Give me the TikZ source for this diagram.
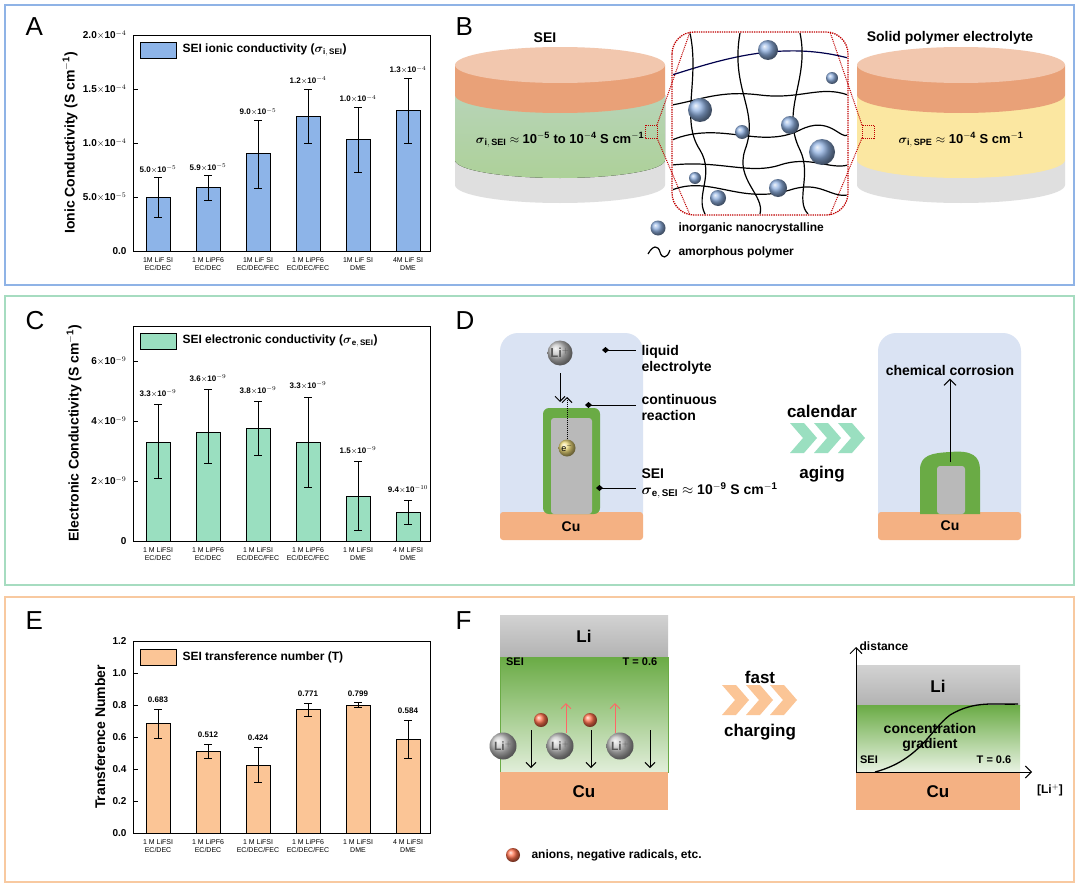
\documentclass[tikz,border=0pt]{standalone}
\usepackage{amsmath}
\usepackage{fontspec}
\setmainfont{Liberation Sans}
\usetikzlibrary{arrows.meta,shapes.geometric}
\definecolor{frA}{HTML}{8FB3E6}
\definecolor{frC}{HTML}{A6DCC0}
\definecolor{frE}{HTML}{F8C9A0}
\definecolor{barA}{HTML}{8DB4E8}
\definecolor{barC}{HTML}{9ADFC0}
\definecolor{barE}{HTML}{FBC596}
\definecolor{cu}{HTML}{F4B183}
\definecolor{elec}{HTML}{DAE3F3}
\definecolor{seig}{HTML}{6AAB45}
\definecolor{capo}{HTML}{E9A178}
\definecolor{redd}{HTML}{C00000}
\definecolor{spe}{HTML}{FBE7A1}
\definecolor{chevC}{HTML}{9ADFC0}
\definecolor{chevE}{HTML}{FBC596}
\definecolor{nano}{HTML}{8FB0E0}
\tikzset{
 frame/.style={line width=2pt},
 bar/.style={draw=black,line width=0.8pt},
 err/.style={line width=0.7pt},
 val/.style={font=\fontsize{8}{9}\selectfont\bfseries,anchor=south},
 cat/.style={font=\fontsize{7}{8}\selectfont,align=center,anchor=north},
 tick/.style={font=\fontsize{10}{11}\selectfont\bfseries,anchor=east},
 ylab/.style={font=\fontsize{14}{15}\selectfont\bfseries,rotate=90},
 leg/.style={font=\fontsize{12}{13}\selectfont\bfseries,anchor=west},
 letter/.style={font=\fontsize{26}{28}\selectfont,anchor=north west},
 txt/.style={font=\fontsize{14}{16}\selectfont\bfseries},
 sph/.style={circle,shading=ball,ball color=#1,inner sep=0pt},
 dia/.style={{Diamond[length=7pt,width=6pt]}-,line width=1pt},
}
\newcommand{\chev}[3]{\fill[#3] (#1,#2-15) -- (#1+14,#2-15) -- (#1+27,#2) -- (#1+14,#2+15) -- (#1,#2+15) -- (#1+13,#2) -- cycle;}
\begin{document}
\begin{tikzpicture}[x=1pt,y=-1pt]
\useasboundingbox (0,0) rectangle (1080,886);
\fill[white] (0,0) rectangle (1080,886);
% frames
\draw[frame,frA] (5,5) rectangle (1074,285);
\draw[frame,frC] (5,296) rectangle (1074,585);
\draw[frame,frE] (5,597) rectangle (1074,882);
\node[letter] (LA) at (22,14) {A};
\node[letter] (LB) at (452,14) {B};
\node[letter] (LC) at (22,308) {C};
\node[letter] (LD) at (452,308) {D};
\node[letter] (LE) at (22,608) {E};
\node[letter] (LF) at (452,608) {F};

% ===== Panel A =====
\draw[line width=0.9pt] (133,35) rectangle (430,251);
\foreach \y/\t in {251/0.0,197/{5.0$\times$10$^{-5}$},143/{1.0$\times$10$^{-4}$},89/{1.5$\times$10$^{-4}$},35/{2.0$\times$10$^{-4}$}}{
 \draw[line width=0.8pt] (133,\y) -- (138,\y);
 \node[tick] at (130,\y) {\t};}
\node[ylab] (YA) at (70,143) {Ionic Conductivity (S cm$^{\mathbf{-1}}$)};
\foreach \i/\v/\lo/\hi/\lab in {0/0.50/0.31/0.68/{5.0$\times$10$^{-5}$},1/0.59/0.47/0.70/{5.9$\times$10$^{-5}$},2/0.90/0.58/1.21/{9.0$\times$10$^{-5}$},3/1.25/1.00/1.50/{1.2$\times$10$^{-4}$},4/1.03/0.73/1.33/{1.0$\times$10$^{-4}$},5/1.30/1.00/1.60/{1.3$\times$10$^{-4}$}}{
 \pgfmathsetmacro\xc{158+50*\i}
 \draw[bar,fill=barA] ({\xc-12},251) rectangle ({\xc+12},{251-\v*108});
 \draw[err] (\xc,{251-\lo*108}) -- (\xc,{251-\hi*108});
 \draw[err] ({\xc-4},{251-\lo*108}) -- ({\xc+4},{251-\lo*108});
 \draw[err] ({\xc-4},{251-\hi*108}) -- ({\xc+4},{251-\hi*108});
 \node[val] at (\xc,{251-\hi*108-1}) {\lab};}
\foreach \i/\a/\b in {0/{1M LiF SI}/{EC/DEC},1/{1 M LiPF6}/{EC/DEC},2/{1M LiF SI}/{EC/DEC/FEC},3/{1 M LiPF6}/{EC/DEC/FEC},4/{1M LiF SI}/{DME},5/{4M LiF SI}/{DME}}{
 \node[cat] at ({158+50*\i},254) {\a\\\b};}
\draw[bar,fill=barA] (140,42) rectangle (176,58);
\node[leg] (legA) at (179,50) {SEI ionic conductivity ($\boldsymbol{\sigma}_{\mathbf{i,\,SEI}}$)};

% ===== Panel C =====
\draw[line width=0.9pt] (133,326) rectangle (430,541);
\foreach \y/\t in {541/0,481/{2$\times$10$^{-9}$},421/{4$\times$10$^{-9}$},361/{6$\times$10$^{-9}$}}{
 \draw[line width=0.8pt] (133,\y) -- (138,\y);
 \node[tick] at (130,\y) {\t};}
\node[ylab] (YC) at (74,433) {Electronic Conductivity (S cm$^{\mathbf{-1}}$)};
\foreach \i/\v/\lo/\hi/\lab in {0/3.30/2.10/4.55/{3.3$\times$10$^{-9}$},1/3.62/2.60/5.05/{3.6$\times$10$^{-9}$},2/3.75/2.85/4.65/{3.8$\times$10$^{-9}$},3/3.30/1.80/4.80/{3.3$\times$10$^{-9}$},4/1.50/0.35/2.65/{1.5$\times$10$^{-9}$},5/0.95/0.55/1.35/{9.4$\times$10$^{-10}$}}{
 \pgfmathsetmacro\xc{158+50*\i}
 \draw[bar,fill=barC] ({\xc-12},541) rectangle ({\xc+12},{541-\v*30});
 \draw[err] (\xc,{541-\lo*30}) -- (\xc,{541-\hi*30});
 \draw[err] ({\xc-4},{541-\lo*30}) -- ({\xc+4},{541-\lo*30});
 \draw[err] ({\xc-4},{541-\hi*30}) -- ({\xc+4},{541-\hi*30});
 \node[val] at (\xc,{541-\hi*30-4}) {\lab};}
\foreach \i/\a/\b in {0/{1 M LiFSI}/{EC/DEC},1/{1 M LiPF6}/{EC/DEC},2/{1 M LiFSI}/{EC/DEC/FEC},3/{1 M LiPF6}/{EC/DEC/FEC},4/{1 M LiFSI}/{DME},5/{4 M LiFSI}/{DME}}{
 \node[cat] at ({158+50*\i},544) {\a\\\b};}
\draw[bar,fill=barC] (140,333) rectangle (176,349);
\node[leg] (legC) at (179,341) {SEI electronic conductivity ($\boldsymbol{\sigma}_{\mathbf{e,\,SEI}}$)};

% ===== Panel E =====
\draw[line width=0.9pt] (133,641) rectangle (430,833);
\foreach \y/\t in {833/0.0,801/0.2,769/0.4,737/0.6,705/0.8,673/1.0,641/1.2}{
 \draw[line width=0.8pt] (133,\y) -- (138,\y);
 \node[tick] at (130,\y) {\t};}
\node[ylab] (YE) at (100,737) {Transference Number};
\foreach \i/\v/\e/\lab in {0/0.683/0.09/0.683,1/0.512/0.045/0.512,2/0.424/0.11/0.424,3/0.771/0.04/0.771,4/0.799/0.015/0.799,5/0.584/0.12/0.584}{
 \pgfmathsetmacro\xc{158+50*\i}
 \draw[bar,fill=barE] ({\xc-12},833) rectangle ({\xc+12},{833-\v*160});
 \draw[err] (\xc,{833-(\v-\e)*160}) -- (\xc,{833-(\v+\e)*160});
 \draw[err] ({\xc-4},{833-(\v-\e)*160}) -- ({\xc+4},{833-(\v-\e)*160});
 \draw[err] ({\xc-4},{833-(\v+\e)*160}) -- ({\xc+4},{833-(\v+\e)*160});
 \node[val] at (\xc,{833-(\v+\e)*160-3}) {\lab};}
\foreach \i/\a/\b in {0/{1 M LiFSI}/{EC/DEC},1/{1 M LiPF6}/{EC/DEC},2/{1 M LiFSI}/{EC/DEC/FEC},3/{1 M LiPF6}/{EC/DEC/FEC},4/{1 M LiFSI}/{DME},5/{4 M LiFSI}/{DME}}{
 \node[cat] at ({158+50*\i},836) {\a\\\b};}
\draw[bar,fill=barE] (140,649) rectangle (176,665);
\node[leg] (legE) at (179,657) {SEI transference number (T)};

% ===== Panel B =====
\fill[gray!25] (455,160) -- (455,185) arc[start angle=180,end angle=0,x radius=105,y radius=18] -- (665,160) -- cycle;
\fill[top color=green!25!gray!45, bottom color=seig!55] (455,95) -- (455,160) arc[start angle=180,end angle=0,x radius=105,y radius=18] -- (665,95) -- cycle;
\fill[capo] (455,65) -- (455,95) arc[start angle=180,end angle=0,x radius=105,y radius=18] -- (665,65) -- cycle;
\fill[capo!60] (560,65) ellipse[x radius=105,y radius=18];
\node[txt] (sei) at (545,38) {SEI};
\node[font=\fontsize{13}{15}\selectfont\bfseries] (sigA) at (560,140) {$\boldsymbol{\sigma}_{\mathbf{i,\,SEI}}\approx$ 10$^{\mathbf{-5}}$ to 10$^{\mathbf{-4}}$ S cm$^{\mathbf{-1}}$};
\fill[gray!25] (857,160) -- (857,185) arc[start angle=180,end angle=0,x radius=104,y radius=18] -- (1065,160) -- cycle;
\fill[spe] (857,95) -- (857,160) arc[start angle=180,end angle=0,x radius=104,y radius=18] -- (1065,95) -- cycle;
\fill[capo] (857,65) -- (857,95) arc[start angle=180,end angle=0,x radius=104,y radius=18] -- (1065,65) -- cycle;
\fill[capo!60] (961,65) ellipse[x radius=104,y radius=18];
\node[txt] (spet) at (950,38) {Solid polymer electrolyte};
\node[font=\fontsize{13}{15}\selectfont\bfseries] (sigB) at (961,140) {$\boldsymbol{\sigma}_{\mathbf{i,\,SPE}}\approx$ 10$^{\mathbf{-4}}$ S cm$^{\mathbf{-1}}$};
\fill[white,rounded corners=22pt] (672,32) rectangle (848,215);
\draw[redd,densely dotted,line width=1.3pt,rounded corners=22pt] (672,32) rectangle (848,215);
\draw[redd,densely dotted,line width=1pt] (645,125) rectangle (657,138);
\draw[redd,densely dotted,line width=1pt] (862,125) rectangle (874,138);
\draw[redd,densely dotted,line width=1pt] (657,125) -- (690,32) (657,138) -- (690,215);
\draw[redd,densely dotted,line width=1pt] (862,125) -- (830,32) (862,138) -- (830,215);
\begin{scope}
\clip[rounded corners=22pt] (673,33) rectangle (847,214);
\draw[line width=1.2pt,black!70!blue] (672,75) .. controls (720,60) and (780,40) .. (848,58);
\draw[line width=1.2pt] (690,33) .. controls (700,80) and (680,120) .. (700,150) .. controls (715,175) and (695,195) .. (705,214);
\draw[line width=1.2pt] (672,140) .. controls (720,120) and (760,150) .. (800,130) .. controls (830,115) and (840,140) .. (848,135);
\draw[line width=1.2pt] (740,33) .. controls (730,90) and (760,110) .. (745,150) .. controls (735,180) and (765,195) .. (760,214);
\draw[line width=1.2pt] (672,190) .. controls (710,175) and (740,205) .. (790,190) .. controls (820,180) and (830,198) .. (848,195);
\draw[line width=1.2pt] (800,33) .. controls (810,80) and (780,110) .. (800,150) .. controls (812,175) and (795,200) .. (808,214);
\draw[line width=1.2pt] (672,105) .. controls (700,100) and (720,90) .. (760,95) .. controls (800,100) and (820,85) .. (848,95);
\draw[line width=1.2pt] (672,165) .. controls (720,160) and (750,175) .. (780,165) .. controls (810,155) and (830,170) .. (848,165);
\end{scope}
\foreach \x/\y/\r [count=\k] in {768/50/10,832/78/6,700/110/12,742/132/7,790/125/9,822/152/13,718/198/8,778/188/9,695/178/6}{
 \node[sph=nano,minimum size=2*\r pt] (s\k) at (\x,\y) {};}
\node[sph=nano,minimum size=15pt] (legs) at (658,228) {};
\node[leg] (legst) at (675,228) {inorganic nanocrystalline};
\draw[line width=1.2pt] (648,254) .. controls (653,245) and (658,245) .. (660,252) .. controls (662,259) and (667,259) .. (670,250);
\node[leg] (legpt) at (675,252) {amorphous polymer};

% ===== Panel D =====
\fill[elec,rounded corners=18pt] (500,333) rectangle (643,530);
\fill[cu,rounded corners=3pt] (500,512) rectangle (643,540);
\node[txt] (cu1) at (571,527) {Cu};
\fill[seig,rounded corners=6pt] (543,408) rectangle (600,514);
\fill[gray!55,rounded corners=3pt] (551,418) rectangle (592,514);
\node[sph=gray!45,minimum size=25pt,font=\fontsize{13}{14}\selectfont\bfseries,text=black!65] (li1) at (560,353) {Li$^{+}$};
\draw[-{Straight Barb[length=5pt]},line width=1pt] (560,373) -- (560,402);
\node[sph=yellow!50!brown!60,minimum size=17pt,font=\fontsize{9}{10}\selectfont] (e1) at (567,448) {e$^{-}$};
\draw[-{Straight Barb[length=5pt]},densely dotted,line width=1pt] (e1.north) -- (567,397);
\node[txt,anchor=west,align=left] (le) at (638,360) {liquid\\electrolyte};
\draw[dia] (602,350) -- (636,350);
\node[txt,anchor=west,align=left] (cr) at (638,407) {continuous\\reaction};
\draw[dia] (585,405) -- (636,405);
\node[txt,anchor=west,align=left] (seil) at (638,484) {SEI\\$\boldsymbol{\sigma}_{\mathbf{e,\,SEI}}\approx$ 10$^{\mathbf{-9}}$ S cm$^{\mathbf{-1}}$};
\draw[dia] (596,488) -- (636,488);
\node[font=\fontsize{17}{19}\selectfont\bfseries] (cal) at (822,411) {calendar};
\chev{790}{438}{chevC}\chev{814}{438}{chevC}\chev{838}{438}{chevC}
\node[font=\fontsize{17}{19}\selectfont\bfseries] (age) at (822,474) {aging};
\fill[elec,rounded corners=18pt] (878,333) rectangle (1021,530);
\fill[cu,rounded corners=3pt] (878,512) rectangle (1021,540);
\node[txt] (cu2) at (950,526) {Cu};
\fill[seig] (920,514) -- (920,470) .. controls (920,455) and (932,453) .. (950,452) .. controls (972,450) and (980,456) .. (980,470) -- (980,514) -- cycle;
\fill[gray!55,rounded corners=3pt] (937,466) rectangle (965,514);
\node[txt] (cc) at (950,370) {chemical corrosion};
\coordinate (ccb) at (950,462);
\draw[-{Straight Barb[length=6pt]},line width=1pt] (ccb) -- (cc.south);

% ===== Panel F =====
\fill[top color=gray!35,bottom color=gray!60] (500,615) rectangle (668,657);
\fill[top color=seig,bottom color=seig!20] (500,657) rectangle (668,772);
\draw[seig,line width=0.8pt] (500,657) rectangle (668,772);
\fill[cu] (500,772) rectangle (668,810);
\node[font=\fontsize{17}{19}\selectfont\bfseries] (li) at (584,636) {Li};
\node[font=\fontsize{17}{19}\selectfont\bfseries] (cu3) at (584,792) {Cu};
\node[font=\fontsize{11}{12}\selectfont\bfseries] (seiF) at (515,662) {SEI};
\node[font=\fontsize{11}{12}\selectfont\bfseries] (tF) at (640,662) {T = 0.6};
\foreach \x [count=\k] in {541,590}{
 \node[sph=red!60!orange!70,minimum size=14pt] (an\k) at (\x,720) {};}
\foreach \x in {566,615}{\draw[-{Straight Barb[length=5pt]},red!60,line width=1pt] (\x,733) -- (\x,703);}
\foreach \x [count=\k] in {503,560,620}{
 \node[sph=gray!45,minimum size=27pt,font=\fontsize{12}{13}\selectfont\bfseries,text=black!65] (lf\k) at (\x,746) {Li$^{+}$};}
\foreach \x in {531,591,650}{\draw[-{Straight Barb[length=5pt]},line width=1pt] (\x,730) -- (\x,768);}
\node[sph=red!60!orange!70,minimum size=14pt] (anl) at (513,855) {};
\node[leg] (anlt) at (528,855) {anions, negative radicals, etc.};
\node[font=\fontsize{17}{19}\selectfont\bfseries] (fast) at (760,677) {fast};
\chev{722}{700}{chevE}\chev{746}{700}{chevE}\chev{770}{700}{chevE}
\node[font=\fontsize{17}{19}\selectfont\bfseries] (chg) at (760,732) {charging};
\fill[top color=gray!35,bottom color=gray!60] (856,665) rectangle (1020,705);
\fill[top color=seig,bottom color=seig!15] (856,705) rectangle (1020,772);
\fill[cu] (856,772) rectangle (1020,810);
\node[font=\fontsize{17}{19}\selectfont\bfseries] (li2) at (938,686) {Li};
\node[font=\fontsize{17}{19}\selectfont\bfseries] (cu4) at (938,792) {Cu};
\coordinate (org) at (856,772);
\coordinate (ytop) at (856,647);
\coordinate (xend) at (1032,772);
\draw[-{Straight Barb[length=6pt]},line width=1pt] (org) -- (ytop);
\draw[-{Straight Barb[length=6pt]},line width=1pt] (org) -- (xend);
\node[font=\fontsize{12}{13}\selectfont\bfseries] (dist) at (884,646) {distance};
\node[font=\fontsize{12}{13}\selectfont\bfseries] (lix) at (1050,790) {[Li$^{+}$]};
\draw[line width=1.3pt] (875,772) .. controls (920,760) and (930,730) .. (950,715) .. controls (975,700) and (995,705) .. (1018,704);
\node[font=\fontsize{14}{15}\selectfont\bfseries,align=center] (cg) at (930,737) {concentration\\gradient};
\node[font=\fontsize{11}{12}\selectfont\bfseries] (seiF2) at (869,760) {SEI};
\node[font=\fontsize{11}{12}\selectfont\bfseries] (tF2) at (994,760) {T = 0.6};
\end{tikzpicture}
\end{document}
